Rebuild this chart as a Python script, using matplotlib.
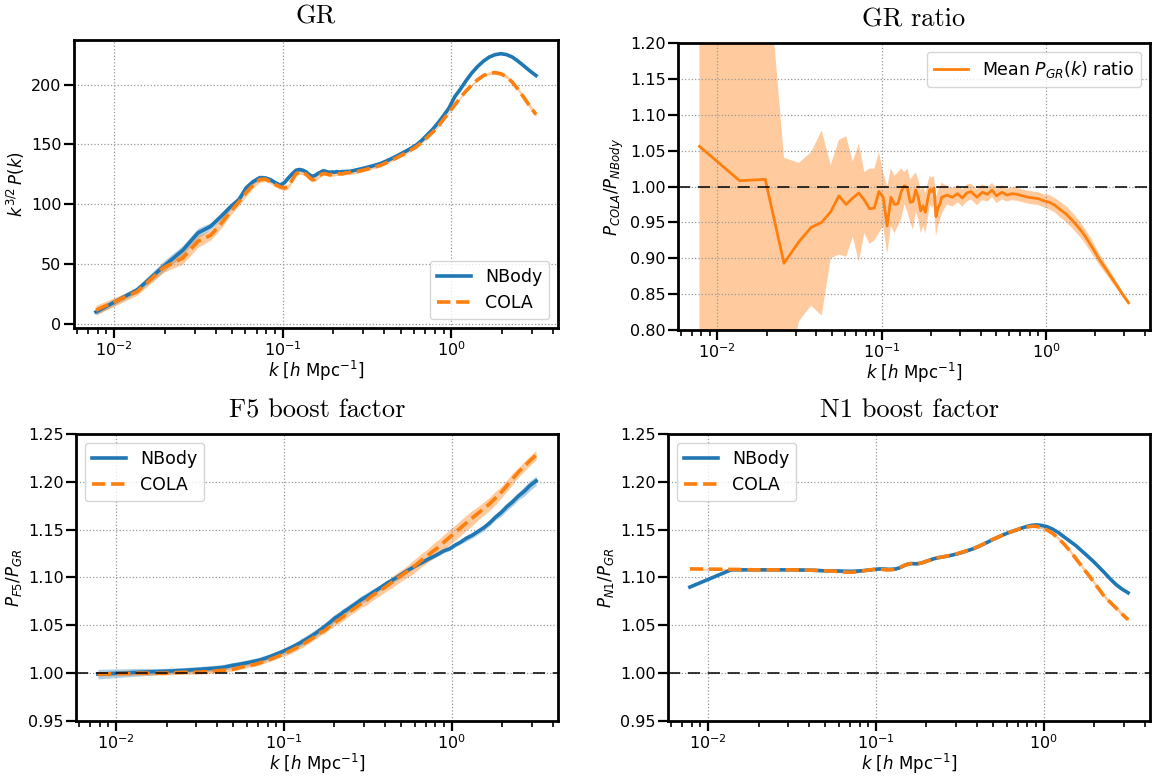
import numpy as np
import matplotlib.pyplot as plt

# wavenumbers [h/Mpc]
k = [0.0078, 0.0137, 0.0196, 0.0255, 0.0314, 0.0373, 0.0432, 0.0491, 0.0550, 0.0609,
     0.0668, 0.0727, 0.0786, 0.0845, 0.0904, 0.0963, 0.1022, 0.1081, 0.1140, 0.1199,
     0.1258, 0.1317, 0.1376, 0.1435, 0.1494, 0.1553, 0.1612, 0.1671, 0.1730, 0.1789,
     0.1848, 0.1907, 0.1966, 0.2025, 0.2084, 0.2143, 0.2202, 0.2261, 0.2320,
     0.25, 0.27, 0.29, 0.31, 0.33, 0.35, 0.38, 0.41, 0.44, 0.47,
     0.50, 0.54, 0.58, 0.62, 0.67, 0.72, 0.78, 0.84, 0.90, 0.97,
     1.05, 1.13, 1.22, 1.32, 1.43, 1.55, 1.68, 1.82, 1.97, 2.13,
     2.30, 2.49, 2.70, 2.92, 3.18]

# GR: k^{3/2} P(k)
gr_nbody = [10, 28.5, 48, 61.5, 76, 81.5, 90, 98, 104, 114,
            119, 122, 122, 120.5, 118, 116, 118, 122, 125.5, 128.4,
            129, 128.4, 127, 124.8, 123.4, 124, 125.6, 126.7, 127.9, 127.6,
            127, 126.7, 127, 126.7, 127.3, 127, 127, 127.3, 127.3,
            127.5, 128.5, 129.5, 130.5, 131.5, 132.5, 134, 136, 138, 140,
            142, 144.5, 147, 149.5, 153.5, 158, 163, 168.5, 174, 180.5,
            190, 196, 203, 209.5, 215, 219.5, 223, 225, 225.8, 225,
            223, 219.5, 215.5, 211.5, 207.5]
gr_nbody_err = [2.5, 2.5, 4.5, 4, 4, 3, 3, 2.5, 2.5, 2,
                2, 2.5, 2, 2, 1.5, 1.5, 1.5, 1.5, 1.5, 1.5,
                1.5, 1.2, 1.2, 1.2, 1.2, 1.2, 1.2, 1.2, 1.2, 1,
                1, 1, 1, 1, 1, 1, 1, 1, 1,
                1, 1, 1, 0.8, 0.8, 0.8, 0.8, 0.8, 0.7, 0.7,
                0.7, 0.6, 0.6, 0.6, 0.5, 0.5, 0.5, 0.5, 0.5, 0.5,
                0.5, 0.5, 0.5, 0.5, 0.5, 0.5, 0.5, 0.5, 0.5, 0.5,
                0.5, 0.5, 0.5, 0.5, 0.5]
gr_cola = [11.5, 27, 47, 55, 69, 74, 84, 94, 102, 110,
           116, 120.5, 121, 119, 116.5, 114.5, 113.5, 115, 120.5, 125.5,
           127, 126.5, 125, 122.5, 120.5, 121, 123, 124.5, 125.5, 125.5,
           125, 124.5, 125, 125, 125.5, 125.5, 125.5, 125.5, 126,
           126.5, 127, 128, 129, 130, 131, 132.5, 134.5, 136.5, 138.5,
           140.5, 143, 145.5, 148, 152, 156, 160.5, 165.5, 171, 177,
           183, 189, 194.5, 199.5, 204, 207.5, 209.5, 210, 209, 206.5,
           202, 196, 189, 182, 175]
gr_cola_err = [4, 3, 4, 5, 5, 4, 4, 3, 3, 3,
               2.5, 2.5, 2, 2, 2, 2, 2, 2, 2, 2,
               2, 2, 2, 2, 2, 2, 2, 2, 1.5, 1.5,
               1.5, 1.5, 1.5, 1.5, 1.5, 1.5, 1.5, 1.5, 1.5,
               1.5, 1.5, 1.5, 1.2, 1.2, 1.2, 1.2, 1, 1, 1,
               1, 1, 1, 1, 1, 1, 1, 1, 1, 1,
               1, 1, 1, 1, 1.2, 1.2, 1.2, 1.5, 1.5, 1.5,
               1.5, 1.5, 2, 2, 2]

# GR ratio P_COLA / P_NBody
ratio_mean = [1.056, 1.008, 1.010, 0.893, 0.923, 0.943, 0.950, 0.965, 0.987, 0.975,
              0.984, 0.991, 0.981, 0.969, 0.970, 0.993, 0.985, 0.945, 0.985, 0.975,
              0.976, 0.993, 1.001, 0.998, 0.978, 0.979, 0.995, 0.985, 0.966, 0.973,
              0.964, 0.982, 0.996, 0.993, 0.998, 0.958, 0.970, 0.975, 0.985,
              0.988, 0.985, 0.990, 0.984, 0.991, 0.993, 0.985, 0.992, 0.989, 0.995,
              0.987, 0.992, 0.988, 0.990, 0.989, 0.987, 0.985, 0.984, 0.983, 0.980,
              0.978, 0.974, 0.968, 0.962, 0.954, 0.945, 0.935, 0.923, 0.910, 0.897,
              0.886, 0.874, 0.862, 0.850, 0.838]
ratio_hi_lowk = [2.0, 1.6, 1.35, 1.040, 1.033, 1.048, 1.078, 1.030, 1.065, 1.070,
                 1.035, 1.060, 1.020, 1.025, 1.025, 1.048, 1.020, 1.000, 1.025, 1.015,
                 1.020, 1.025, 1.020, 1.025, 1.010, 1.015, 1.020, 1.010, 0.995, 1.000,
                 0.990, 1.005, 1.015, 1.012, 1.015, 0.985, 0.995, 1.000, 1.005]
ratio_lo_lowk = [0.5, 0.4, 0.6, 0.70, 0.812, 0.834, 0.820, 0.900, 0.905, 0.902,
                 0.930, 0.895, 0.935, 0.920, 0.925, 0.935, 0.945, 0.906, 0.945, 0.935,
                 0.945, 0.955, 0.975, 0.965, 0.950, 0.940, 0.965, 0.955, 0.935, 0.945,
                 0.935, 0.955, 0.975, 0.970, 0.975, 0.930, 0.945, 0.952, 0.962]
ratio_err_highk = [0.013, 0.013, 0.012, 0.012, 0.012, 0.011, 0.011, 0.011, 0.010, 0.010,
                   0.010, 0.010, 0.009, 0.009, 0.009, 0.009, 0.009, 0.009, 0.009, 0.009,
                   0.010, 0.010, 0.011, 0.011, 0.011, 0.011, 0.010, 0.010, 0.009, 0.008,
                   0.007, 0.006, 0.005, 0.004, 0.003]

# F5 boost P_F5 / P_GR
f5_nbody = [0.999, 1.001, 1.002, 1.003, 1.004, 1.005, 1.006, 1.008, 1.0095, 1.011,
            1.0125, 1.014, 1.016, 1.018, 1.020, 1.022, 1.024, 1.026, 1.028, 1.030,
            1.032, 1.034, 1.036, 1.038, 1.040, 1.042, 1.044, 1.046, 1.048, 1.050,
            1.052, 1.054, 1.056, 1.058, 1.059, 1.061, 1.062, 1.064, 1.065,
            1.069, 1.073, 1.077, 1.080, 1.083, 1.086, 1.090, 1.094, 1.097, 1.100,
            1.103, 1.107, 1.110, 1.113, 1.116, 1.119, 1.122, 1.125, 1.128, 1.130,
            1.134, 1.137, 1.141, 1.144, 1.148, 1.152, 1.157, 1.163, 1.168, 1.174,
            1.179, 1.185, 1.190, 1.196, 1.201]
f5_nbody_err = [0.005, 0.004, 0.003, 0.003, 0.003, 0.003, 0.003, 0.003, 0.003, 0.003,
                0.003, 0.003, 0.003, 0.003, 0.003, 0.003, 0.003, 0.003, 0.003, 0.003,
                0.004, 0.004, 0.004, 0.004, 0.004, 0.004, 0.004, 0.004, 0.004, 0.004,
                0.004, 0.004, 0.004, 0.004, 0.004, 0.004, 0.004, 0.004, 0.004,
                0.004, 0.004, 0.004, 0.004, 0.004, 0.003, 0.003, 0.003, 0.003, 0.003,
                0.003, 0.002, 0.002, 0.002, 0.002, 0.002, 0.002, 0.002, 0.002, 0.002,
                0.002, 0.002, 0.003, 0.003, 0.003, 0.003, 0.003, 0.003, 0.004, 0.004,
                0.004, 0.004, 0.005, 0.005, 0.005]
f5_cola = [0.999, 1.000, 1.000, 1.001, 1.001, 1.002, 1.003, 1.004, 1.006, 1.008,
           1.009, 1.011, 1.013, 1.015, 1.017, 1.019, 1.021, 1.023, 1.025, 1.027,
           1.029, 1.031, 1.033, 1.035, 1.037, 1.039, 1.041, 1.043, 1.044, 1.046,
           1.048, 1.050, 1.051, 1.053, 1.055, 1.056, 1.058, 1.059, 1.061,
           1.065, 1.069, 1.073, 1.076, 1.080, 1.083, 1.087, 1.091, 1.095, 1.099,
           1.102, 1.106, 1.110, 1.114, 1.119, 1.123, 1.128, 1.132, 1.137, 1.142,
           1.147, 1.152, 1.157, 1.162, 1.167, 1.172, 1.177, 1.183, 1.189, 1.196,
           1.203, 1.210, 1.216, 1.222, 1.228]
f5_cola_err = [0.002, 0.002, 0.002, 0.002, 0.002, 0.002, 0.002, 0.002, 0.002, 0.002,
               0.002, 0.002, 0.002, 0.002, 0.002, 0.002, 0.003, 0.003, 0.003, 0.003,
               0.003, 0.003, 0.003, 0.003, 0.003, 0.003, 0.003, 0.003, 0.003, 0.003,
               0.003, 0.003, 0.003, 0.003, 0.004, 0.004, 0.004, 0.004, 0.004,
               0.004, 0.004, 0.004, 0.005, 0.005, 0.005, 0.005, 0.005, 0.006, 0.006,
               0.006, 0.006, 0.007, 0.007, 0.007, 0.007, 0.008, 0.008, 0.008, 0.008,
               0.008, 0.008, 0.008, 0.008, 0.007, 0.007, 0.007, 0.007, 0.006, 0.006,
               0.006, 0.005, 0.005, 0.005, 0.005]

# N1 boost P_N1 / P_GR
n1_nbody = [1.090, 1.108, 1.108, 1.108, 1.108, 1.1078, 1.1075, 1.107, 1.107, 1.1068,
            1.1065, 1.1065, 1.1068, 1.1072, 1.1078, 1.1083, 1.1088, 1.109, 1.1088, 1.1085,
            1.1087, 1.109, 1.110, 1.1115, 1.113, 1.114, 1.1145, 1.1145, 1.1143, 1.1145,
            1.115, 1.1157, 1.1165, 1.1173, 1.118, 1.1188, 1.1195, 1.120, 1.1205,
            1.1215, 1.1225, 1.1238, 1.125, 1.1265, 1.128, 1.130, 1.1325, 1.135, 1.1375,
            1.140, 1.1425, 1.145, 1.147, 1.149, 1.151, 1.153, 1.1545, 1.155, 1.1545,
            1.153, 1.1505, 1.147, 1.1425, 1.138, 1.1335, 1.128, 1.1225, 1.117, 1.111,
            1.105, 1.0985, 1.0925, 1.088, 1.084]
n1_cola = [1.109, 1.1085, 1.108, 1.108, 1.108, 1.1078, 1.1075, 1.107, 1.1068, 1.106,
           1.1055, 1.1055, 1.106, 1.107, 1.1078, 1.1083, 1.1088, 1.1085, 1.108, 1.108,
           1.1082, 1.1088, 1.110, 1.1115, 1.113, 1.114, 1.1145, 1.1145, 1.1143, 1.1145,
           1.115, 1.1157, 1.1165, 1.1173, 1.118, 1.1188, 1.1195, 1.120, 1.1205,
           1.1215, 1.1228, 1.124, 1.1252, 1.1267, 1.1282, 1.1302, 1.1327, 1.1352, 1.1377,
           1.140, 1.1425, 1.145, 1.147, 1.149, 1.151, 1.1525, 1.1535, 1.1535, 1.152,
           1.1495, 1.146, 1.141, 1.135, 1.128, 1.120, 1.112, 1.104, 1.096, 1.088,
           1.080, 1.074, 1.068, 1.062, 1.056]
n1_nbody_err = [0.0008] * len(k)
n1_cola_err = [0.001, 0.001, 0.001, 0.001, 0.001, 0.001, 0.001, 0.001, 0.001, 0.001,
               0.001, 0.001, 0.001, 0.001, 0.001, 0.001, 0.001, 0.001, 0.001, 0.001,
               0.001, 0.001, 0.001, 0.001, 0.001, 0.001, 0.001, 0.001, 0.001, 0.001,
               0.001, 0.001, 0.001, 0.001, 0.001, 0.001, 0.001, 0.001, 0.001,
               0.001, 0.001, 0.001, 0.001, 0.001, 0.001, 0.001, 0.001, 0.001, 0.001,
               0.001, 0.001, 0.001, 0.001, 0.001, 0.001, 0.001, 0.001, 0.001, 0.0012,
               0.0012, 0.0015, 0.0015, 0.0015, 0.0018, 0.0018, 0.002, 0.002, 0.002, 0.002,
               0.002, 0.002, 0.002, 0.002, 0.002]

k = np.array(k)
nlow = len(ratio_hi_lowk)
ratio_mean = np.array(ratio_mean)
ratio_hi = np.concatenate([ratio_hi_lowk, ratio_mean[nlow:] + np.array(ratio_err_highk)])
ratio_lo = np.concatenate([ratio_lo_lowk, ratio_mean[nlow:] - np.array(ratio_err_highk)])

plt.rcParams['font.size'] = 12
plt.rcParams['axes.linewidth'] = 2
XLABEL = r'$k$ [$h$ Mpc$^{-1}$]'
TITLE_FONT = dict(family='cmr10', fontsize=19)
W, H = 1156, 782


def place(ax, x0, x1, y0, y1):
    # pixel box -> figure fraction
    ax.set_position([x0 / W, 1 - y1 / H, (x1 - x0) / W, (y1 - y0) / H])


def style(ax, ylabel):
    ax.set_xscale('log')
    ax.grid(True, which='major', linestyle=':', color='0.6', linewidth=0.9)
    ax.tick_params(which='major', length=7, width=1.6, labelsize=11.5, pad=2)
    ax.tick_params(which='minor', length=4, width=1.2)
    ax.set_xlabel(XLABEL, fontsize=12, labelpad=0)
    ax.set_ylabel(ylabel, fontsize=12, labelpad=3)


def with_band(ax, y, err, color, ls, label, band_alpha):
    y = np.array(y)
    err = np.array(err)
    ax.fill_between(k, y - err, y + err, color=color, alpha=band_alpha, linewidth=0)
    ax.plot(k, y, color=color, ls=ls, lw=2.6, label=label)


fig, axs = plt.subplots(2, 2, figsize=(W / 100, H / 100), dpi=100)

ax = axs[0, 0]
with_band(ax, gr_nbody, gr_nbody_err, 'C0', '-', 'NBody', 0.35)
with_band(ax, gr_cola, gr_cola_err, 'C1', '--', 'COLA', 0.4)
style(ax, r'$k^{3/2}\,P(k)$')
ax.set_title('GR', **TITLE_FONT, pad=12)
ax.legend(loc='lower right', fontsize=12.5)
place(ax, 74, 558, 40, 328)

ax = axs[0, 1]
ax.fill_between(k, ratio_lo, ratio_hi, color='C1', alpha=0.4, linewidth=0)
ax.plot(k, ratio_mean, color='C1', lw=2, label=r'Mean $P_{GR}(k)$ ratio')
ax.axhline(1.0, color='k', ls=(0, (8, 5)), lw=1.1)
style(ax, r'$P_{COLA}/P_{NBody}$')
ax.set_ylim(0.8, 1.2)
ax.set_yticks(np.arange(0.80, 1.201, 0.05))
ax.set_title('GR ratio', **TITLE_FONT, pad=12)
ax.legend(loc='upper right', fontsize=12.5)
place(ax, 678, 1150, 43, 330)

ax = axs[1, 0]
with_band(ax, f5_nbody, f5_nbody_err, 'C0', '-', 'NBody', 0.35)
with_band(ax, f5_cola, f5_cola_err, 'C1', '--', 'COLA', 0.4)
ax.axhline(1.0, color='k', ls=(0, (8, 5)), lw=1.1)
style(ax, r'$P_{F5}/P_{GR}$')
ax.set_ylim(0.95, 1.25)
ax.set_title('F5 boost factor', **TITLE_FONT, pad=12)
ax.legend(loc='upper left', fontsize=12.5)
place(ax, 76, 558, 434, 721)

ax = axs[1, 1]
with_band(ax, n1_nbody, n1_nbody_err, 'C0', '-', 'NBody', 0.35)
with_band(ax, n1_cola, n1_cola_err, 'C1', '--', 'COLA', 0.4)
ax.axhline(1.0, color='k', ls=(0, (8, 5)), lw=1.1)
style(ax, r'$P_{N1}/P_{GR}$')
ax.set_ylim(0.95, 1.25)
ax.set_title('N1 boost factor', **TITLE_FONT, pad=12)
ax.legend(loc='upper left', fontsize=12.5)
place(ax, 668, 1150, 434, 721)

fig.savefig('out.png', dpi=100)
